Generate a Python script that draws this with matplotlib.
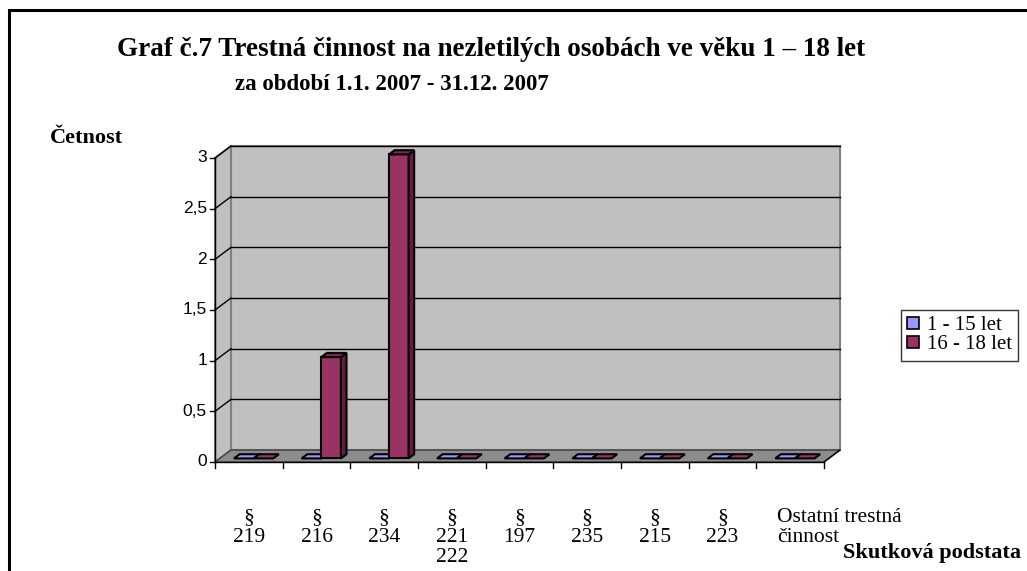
import matplotlib
matplotlib.use('Agg')
import matplotlib.pyplot as plt
from matplotlib.patches import Polygon, Patch, Rectangle
import numpy as np

categories = ['§\n219', '§\n216', '§\n234', '§\n221\n222', '§\n197', '§\n235', '§\n215', '§\n223',
              'Ostatní trestná\nčinnost']
age_1_15 = [0, 0, 0, 0, 0, 0, 0, 0, 0]
age_16_18 = [0, 1, 3, 0, 0, 0, 0, 0, 0]
series_names = ['1 - 15 let', '16 - 18 let']
yticks = [0, 0.5, 1, 1.5, 2, 2.5, 3]
ytick_labels = ['0', '0,5', '1', '1,5', '2', '2,5', '3']

face_cols = ['#9999ff', '#993366']
side_cols = ['#5c5c99', '#5c1f3d']
top_cols = ['#7a7acc', '#7a2952']

serif = 'Liberation Serif'
sans = 'Liberation Sans'

fig = plt.figure(figsize=(10.27, 5.71), dpi=100)
W, H = 1027, 571

# outer frame
fig.patches.append(Rectangle((9 / W, -0.1), 1.2, 1 - 10 / H + 0.1, transform=fig.transFigure,
                             fill=False, lw=2.2, ec='black'))

ax = fig.add_axes([215 / W, (H - 462) / H, 609 / W, 304 / H])
ax.set_xlim(0, 9)
ax.set_ylim(0, 3)
ax.axis('off')

n = len(categories)
ddx, ddy = 0.236, 0.118   # depth of the 3d box in data units
top = 3

# back wall, side wall, floor
ax.add_patch(Polygon([(ddx, ddy), (n + ddx, ddy), (n + ddx, top + ddy), (ddx, top + ddy)],
                     closed=True, fc='#c0c0c0', ec='#808080', lw=1.5, clip_on=False, zorder=0))
ax.add_patch(Polygon([(0, 0), (ddx, ddy), (ddx, top + ddy), (0, top)],
                     closed=True, fc='#c0c0c0', ec='#808080', lw=1.5, clip_on=False, zorder=0))
ax.add_patch(Polygon([(0, 0), (n, 0), (n + ddx, ddy), (ddx, ddy)],
                     closed=True, fc='#8c8c8c', ec='#404040', lw=1, clip_on=False, zorder=1))

# gridlines on back and side wall
for v in yticks[1:]:
    ax.plot([ddx, n + ddx], [v + ddy, v + ddy], color='black', lw=1, zorder=1, clip_on=False)
    ax.plot([0, ddx], [v, v + ddy], color='black', lw=1, zorder=1, clip_on=False)

# axes lines and ticks
ax.plot([0, 0], [0, top], color='black', lw=1, clip_on=False, zorder=5)
ax.plot([0, n], [0, 0], color='black', lw=1, clip_on=False, zorder=5)
ax.plot([n, n + ddx], [0, ddy], color='black', lw=1, clip_on=False, zorder=5)
tick_w = 0.08
tick_h = 0.06
for v, lab in zip(yticks, ytick_labels):
    ax.plot([-tick_w, 0], [v, v], color='black', lw=1, clip_on=False, zorder=5)
    ax.text(-0.12, v, lab, ha='right', va='center', fontsize=12.5, family=sans)
for i in range(n + 1):
    ax.plot([i, i], [0, -tick_h], color='black', lw=1, clip_on=False, zorder=5)

# 3d columns
bw = 0.29
fo = 0.3   # front of bar, fraction of depth
bo = 0.65  # back of bar
x0 = np.arange(n) + 0.5 - bw
for k, vals in enumerate([age_1_15, age_16_18]):
    for i, v in enumerate(vals):
        xl = x0[i] + k * bw + fo * ddx
        yb = fo * ddy
        sx = (bo - fo) * ddx
        sy = (bo - fo) * ddy
        z = 3 + i * 0.01 + k * 0.001
        if v > 0:
            ax.bar(xl, v, width=bw, bottom=yb, align='edge', color=face_cols[k],
                   edgecolor='black', lw=1.5, zorder=z, clip_on=False)
            ax.add_patch(Polygon([(xl + bw, yb), (xl + bw + sx, yb + sy), (xl + bw + sx, yb + sy + v),
                                  (xl + bw, yb + v)], closed=True, fc=side_cols[k], ec='black',
                                 lw=1.5, zorder=z, clip_on=False))
        ax.add_patch(Polygon([(xl, yb + v), (xl + bw, yb + v), (xl + bw + sx, yb + sy + v),
                              (xl + sx, yb + sy + v)], closed=True, fc=top_cols[k] if v > 0 else face_cols[k],
                             ec='black', lw=1.5, zorder=z, clip_on=False))

# category labels
for i, lab in enumerate(categories):
    if i == n - 1:
        ax.text(i + 0.3, -0.45, lab, ha='left', va='top', fontsize=15.5, family=serif,
                linespacing=1.07)
    else:
        ax.text(i + 0.5, -0.45, lab, ha='center', va='top', fontsize=15.5, family=serif,
                linespacing=1.07)

# titles
fig.text(491 / W, 1 - 49 / H, 'Graf č.7 Trestná činnost na nezletilých osobách ve věku 1 – 18 let',
         ha='center', va='center', fontsize=19.5, fontweight='bold', family=serif)
fig.text(392 / W, 1 - 84 / H, 'za období 1.1. 2007 - 31.12. 2007',
         ha='center', va='center', fontsize=16.5, fontweight='bold', family=serif)
fig.text(50 / W, 1 - 138 / H, 'Četnost', ha='left', va='center', fontsize=16,
         fontweight='bold', family=serif)
fig.text(843 / W, 1 - 553 / H, 'Skutková podstata', ha='left', va='center', fontsize=16,
         fontweight='bold', family=serif)

handles = [Patch(fc=face_cols[k], ec='black', lw=1.2) for k in range(2)]
leg = fig.legend(handles, series_names, loc='upper left', bbox_to_anchor=(901 / W, 1 - 310 / H),
                 prop={'family': serif, 'size': 15}, frameon=True, fancybox=False,
                 edgecolor='black', borderpad=0.3, handlelength=0.55, handleheight=0.55,
                 handletextpad=0.4, labelspacing=0.0, borderaxespad=0)
leg.get_frame().set_linewidth(1)

plt.savefig('out.png', dpi=100)
